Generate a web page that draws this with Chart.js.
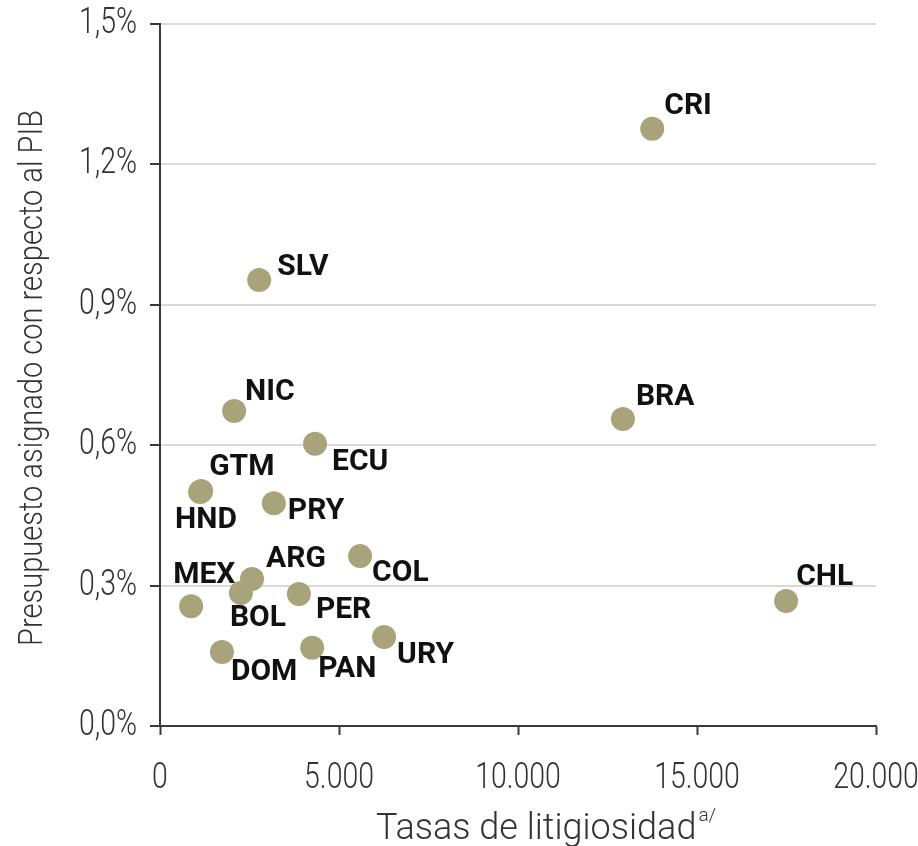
<!DOCTYPE html>
<html>
<head>
<meta charset="utf-8">
<script src="https://cdn.jsdelivr.net/npm/chart.js@4.4.1/dist/chart.umd.min.js"></script>
<style>
  html, body { margin: 0; padding: 0; background: #ffffff; }
  #wrap { width: 918px; height: 846px; position: relative; }
</style>
</head>
<body>
<div id="wrap"><canvas id="c" width="918" height="846"></canvas></div>
<script>
// ---- Data ----
const countries = ["CRI","SLV","NIC","BRA","ECU","GTM","HND","PRY","COL","ARG","BOL","PER","MEX","CHL","URY","DOM","PAN"];
const litigiosidad = [13750, 2770, 2070, 12930, 4330, 1150, 1120, 3180, 5590, 2570, 2260, 3880, 870, 17490, 6260, 1730, 4250];
const presupuestoPIB = [1.276, 0.953, 0.673, 0.656, 0.603, 0.502, 0.500, 0.476, 0.363, 0.314, 0.284, 0.282, 0.256, 0.267, 0.190, 0.158, 0.167];
const xTicks = [0, 5000, 10000, 15000, 20000];
const yTicks = [0, 0.3, 0.6, 0.9, 1.2, 1.5];
const xTitle = "Tasas de litigiosidad";
const xTitleSup = "a/";
const yTitle = "Presupuesto asignado con respecto al PIB";

// label placement (text left edge / vertical centre relative to the point)
const labelOffsets = {
  CRI:[12,-22], SLV:[18,-12], NIC:[11,-19], BRA:[13,-21], ECU:[17,19],
  GTM:[8,-24], HND:[-25,28], PRY:[14,8], COL:[12,17], ARG:[14,-20],
  MEX:[-18,-31], BOL:[-11,25], PER:[17,16], CHL:[10,-24], URY:[13,18],
  DOM:[9,20], PAN:[6,22]
};

const points = litigiosidad.map((x, i) => ({ x: x, y: presupuestoPIB[i] }));

const AXIS_COLOR = "#3a3a3a";
const TEXT_COLOR = "#333333";
const LIGHT_FONT = "300 36px Roboto";
const CONDENSE = 0.79;

const fmtX = v => v.toLocaleString("de-DE");
const fmtY = v => v.toFixed(1).replace(".", ",") + "%";

// draws condensed text (horizontal scale) at x,y
function condensedText(ctx, text, x, y, sx, align) {
  ctx.save();
  ctx.translate(x, y);
  ctx.scale(sx, 1);
  ctx.textAlign = align;
  ctx.fillText(text, 0, 0);
  ctx.restore();
}

const labelPlugin = {
  id: "pointLabels",
  afterDatasetsDraw(chart) {
    const ctx = chart.ctx;
    const meta = chart.getDatasetMeta(0);
    ctx.save();
    ctx.font = "bold 30px Roboto";
    ctx.fillStyle = "#111111";
    ctx.textAlign = "left";
    ctx.textBaseline = "middle";
    meta.data.forEach((el, i) => {
      const name = countries[i];
      const off = labelOffsets[name] || [10, -20];
      ctx.fillText(name, el.x + off[0], el.y + off[1]);
    });
    ctx.restore();
  }
};

const tickLabelPlugin = {
  id: "tickLabels",
  afterDraw(chart) {
    const ctx = chart.ctx;
    const xs = chart.scales.x, ys = chart.scales.y;
    const area = chart.chartArea;
    ctx.save();
    ctx.fillStyle = TEXT_COLOR;
    ctx.font = LIGHT_FONT;
    ctx.textBaseline = "alphabetic";
    xTicks.forEach(v => {
      condensedText(ctx, fmtX(v), xs.getPixelForValue(v), area.bottom + 62, CONDENSE, "center");
    });
    ctx.textBaseline = "middle";
    yTicks.forEach(v => {
      condensedText(ctx, fmtY(v), area.left - 23, ys.getPixelForValue(v), CONDENSE, "right");
    });
    ctx.restore();
  }
};

const titlePlugin = {
  id: "axisTitles",
  afterDraw(chart) {
    const ctx = chart.ctx;
    const area = chart.chartArea;
    ctx.save();
    ctx.fillStyle = TEXT_COLOR;
    ctx.textBaseline = "alphabetic";
    // x title with superscript
    const sx = 1.0;
    ctx.font = "300 36px Roboto";
    const w1 = ctx.measureText(xTitle).width * sx;
    ctx.font = "300 19px Roboto";
    const w2 = ctx.measureText(xTitleSup).width * sx;
    const startX = (area.left + area.right) / 2 + 27 - (w1 + w2) / 2;
    ctx.font = "300 36px Roboto";
    condensedText(ctx, xTitle, startX, 839, sx, "left");
    ctx.font = "300 19px Roboto";
    condensedText(ctx, xTitleSup, startX + w1 + 2, 821, sx, "left");
    // y title rotated
    ctx.translate(42, (area.top + area.bottom) / 2 + 3);
    ctx.rotate(-Math.PI / 2);
    ctx.font = "300 33px Roboto";
    condensedText(ctx, yTitle, 0, 0, 0.88, "center");
    ctx.restore();
  }
};

new Chart(document.getElementById("c"), {
  type: "scatter",
  data: {
    datasets: [{
      data: points,
      backgroundColor: "#a9a37b",
      borderColor: "#a9a37b",
      pointRadius: 12,
      pointHoverRadius: 12,
      borderWidth: 0
    }]
  },
  options: {
    responsive: false,
    animation: false,
    events: [],
    layout: { padding: { top: 24, right: 42, bottom: 0, left: 0 } },
    plugins: { legend: { display: false }, tooltip: { enabled: false } },
    scales: {
      x: {
        type: "linear",
        min: 0, max: 20000,
        afterBuildTicks(scale) { scale.ticks = xTicks.map(v => ({ value: v })); },
        afterFit(scale) { scale.height = 120; scale.paddingLeft = 0; scale.paddingRight = 0; },
        grid: { drawOnChartArea: false, drawTicks: true, tickLength: 9, tickColor: AXIS_COLOR, tickWidth: 2 },
        border: { display: true, color: AXIS_COLOR, width: 2 },
        ticks: { display: false, autoSkip: false, callback: fmtX }
      },
      y: {
        type: "linear",
        min: 0, max: 1.5,
        afterBuildTicks(scale) { scale.ticks = yTicks.map(v => ({ value: v })); },
        afterFit(scale) { scale.width = 160; scale.paddingTop = 0; scale.paddingBottom = 0; },
        grid: {
          color: ctx => (ctx.tick && ctx.tick.value === 0) ? "rgba(0,0,0,0)" : "#d9d9d9",
          lineWidth: 2,
          drawTicks: true,
          tickLength: 10,
          tickColor: AXIS_COLOR,
          tickWidth: 2
        },
        border: { display: true, color: AXIS_COLOR, width: 2 },
        ticks: { display: false, autoSkip: false, callback: fmtY }
      }
    }
  },
  plugins: [labelPlugin, tickLabelPlugin, titlePlugin]
});
</script>
</body>
</html>
